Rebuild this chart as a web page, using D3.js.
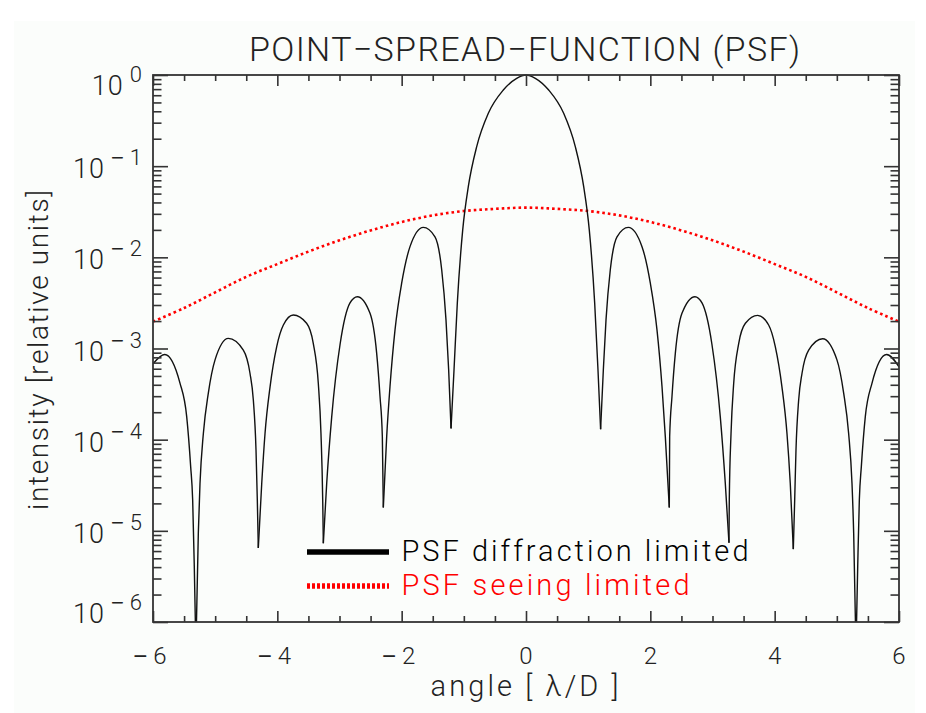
<!DOCTYPE html>
<html>
<head>
<meta charset="utf-8">
<script src="https://cdn.jsdelivr.net/npm/d3@7/dist/d3.min.js"></script>
<style>
  html, body { margin: 0; padding: 0; background: #ffffff; }
  svg { display: block; }
  text { font-family: "Roboto", "Liberation Sans", "DejaVu Sans", sans-serif; font-weight: 300; fill: #222; }
  tspan.minus { font-family: "Liberation Sans", sans-serif; font-weight: 400; }
</style>
</head>
<body>
<svg id="chart" width="926" height="713"></svg>
<script>
// ---------------- DATA ----------------
const titleText = "POINT\u2212SPREAD\u2212FUNCTION (PSF)";
const xTitle = "angle [ \u03bb/D ]";
const yTitle = "intensity [relative units]";
const legendLabels = ["PSF diffraction limited", "PSF seeing limited"];

const xMajorTicks = [-6, -4, -2, 0, 2, 4, 6];
const xMinorTicks = [-5.5, -5, -4.5, -3.5, -3, -2.5, -1.5, -1, -0.5, 0.5, 1, 1.5, 2.5, 3, 3.5, 4.5, 5, 5.5];
const yMajorTicks = [1, 1e-1, 1e-2, 1e-3, 1e-4, 1e-5, 1e-6];
const yTickExponents = ["0", "1", "2", "3", "4", "5", "6"];

// diffraction-limited PSF: angle and intensity
const diffX = [
  -6.00, -5.81, -5.565, -5.458, -5.394, -5.362, -5.336, -5.31,
  -5.271, -5.244, -5.19, -5.11, -5.002, -4.788, -4.547, -4.44, -4.386, -4.343, -4.322, -4.306,
  -4.251, -4.198, -4.117, -4.01, -3.903, -3.743, -3.529, -3.422, -3.341, -3.298, -3.27, -3.26,
  -3.206, -3.125, -2.99, -2.831, -2.713, -2.509, -2.402, -2.348, -2.311, -2.295,
  -2.241, -2.188, -2.107, -2.0, -1.866, -1.652, -1.464, -1.356, -1.287, -1.244, -1.206,
  -1.158, -1.105, -1.018, -0.928, -0.793, -0.606, -0.365, -0.15, 0,
  0.15, 0.365, 0.606, 0.793, 0.928, 1.018, 1.105, 1.158,
  1.200, 1.244, 1.287, 1.356, 1.464, 1.646, 1.866, 2.0, 2.107, 2.188, 2.241,
  2.305, 2.311, 2.348, 2.402, 2.509, 2.718, 2.831, 2.99, 3.125, 3.206,
  3.265, 3.27, 3.298, 3.341, 3.422, 3.529, 3.726, 3.903, 4.01, 4.117, 4.198, 4.251,
  4.300, 4.322, 4.343, 4.386, 4.44, 4.547, 4.772, 5.002, 5.11, 5.19, 5.244, 5.271,
  5.308, 5.336, 5.362, 5.394, 5.458, 5.565, 5.80, 6.00
];
const diffI = [
  6.8e-4, 8.6e-4, 4.15e-4, 1.79e-4, 5.06e-5, 2.19e-5, 4.1e-6, 5.0e-7,
  9.4e-6, 3.3e-5, 1.17e-4, 3.24e-4, 7.5e-4, 1.29e-3, 9.6e-4, 5.35e-4, 2.72e-4, 7.7e-5, 2.18e-5, 6.5e-6,
  3.3e-5, 1.17e-4, 3.8e-4, 1.05e-3, 1.81e-3, 2.33e-3, 1.89e-3, 1.14e-3, 4.15e-4, 1.17e-4, 2.18e-5, 7.3e-6,
  3.3e-5, 1.79e-4, 1.12e-3, 3.16e-3, 3.7e-3, 2.43e-3, 8.85e-4, 2.96e-4, 1.08e-4, 1.8e-5,
  1.08e-4, 3.8e-4, 1.6e-3, 5.2e-3, 1.31e-2, 2.13e-2, 1.68e-2, 7.3e-3, 2.06e-3, 5.8e-4, 1.33e-4,
  5.8e-4, 3.13e-3, 2.0e-2, 5.96e-2, 0.164, 0.38, 0.684, 0.92, 1.0,
  0.92, 0.684, 0.38, 0.164, 5.96e-2, 2.0e-2, 3.13e-3, 5.8e-4,
  1.3e-4, 5.8e-4, 2.06e-3, 7.3e-3, 1.68e-2, 2.13e-2, 1.31e-2, 5.2e-3, 1.6e-3, 3.8e-4, 1.08e-4,
  1.8e-5, 1.08e-4, 2.96e-4, 8.85e-4, 2.43e-3, 3.7e-3, 3.16e-3, 1.12e-3, 1.79e-4, 3.3e-5,
  7.4e-6, 2.18e-5, 1.17e-4, 4.15e-4, 1.14e-3, 1.89e-3, 2.31e-3, 1.81e-3, 1.05e-3, 3.8e-4, 1.17e-4, 3.3e-5,
  6.3e-6, 2.18e-5, 7.7e-5, 2.72e-4, 5.35e-4, 9.6e-4, 1.28e-3, 7.5e-4, 3.24e-4, 1.17e-4, 3.3e-5, 9.4e-6,
  5.0e-7, 4.1e-6, 2.19e-5, 5.06e-5, 1.79e-4, 4.15e-4, 8.6e-4, 6.3e-4
];

// seeing-limited PSF: angle and intensity
const seeX = [-6, -5.5, -5, -4.5, -4, -3.5, -3, -2.5, -2, -1.5, -1, -0.5, 0, 0.5, 1, 1.5, 2, 2.5, 3, 3.5, 4, 4.5, 5, 5.5, 6];
const seeI = [1.97e-3, 2.78e-3, 4.13e-3, 6.11e-3, 8.43e-3, 1.156e-2, 1.538e-2, 1.972e-2, 2.443e-2, 2.884e-2, 3.22e-2, 3.40e-2, 3.51e-2,
              3.40e-2, 3.22e-2, 2.884e-2, 2.443e-2, 1.972e-2, 1.538e-2, 1.156e-2, 8.43e-3, 6.11e-3, 4.13e-3, 2.78e-3, 1.97e-3];

// ---------------- CHART ----------------
const svg = d3.select("#chart");
const L = 153, R = 899, T = 75, B = 622;
const x = d3.scaleLinear().domain([-6, 6]).range([L, R]);
const y = d3.scaleLog().domain([1e-6, 1]).range([B, T]);
const axisColor = "#333";

svg.append("rect").attr("x", 14).attr("y", 21).attr("width", 901).attr("height", 692).attr("fill", "#fbfdfb");

svg.append("defs").append("clipPath").attr("id", "plotclip")
  .append("rect").attr("x", L).attr("y", T - 2).attr("width", R - L).attr("height", B - T + 2);

// seeing-limited curve
const seeData = seeX.map((v, i) => [v, seeI[i]]);
svg.append("path")
  .datum(seeData)
  .attr("clip-path", "url(#plotclip)")
  .attr("fill", "none").attr("stroke", "#ff0000").attr("stroke-width", 2.6)
  .attr("stroke-dasharray", "2.6,3")
  .attr("d", d3.line().x(d => x(d[0])).y(d => y(d[1])).curve(d3.curveCatmullRom));

// diffraction-limited curve: split into lobes at the local minima so dips stay sharp
const diffData = diffX.map((v, i) => [v, diffI[i]]);
const lobes = [];
let cur = [diffData[0]];
for (let i = 1; i < diffData.length; i++) {
  cur.push(diffData[i]);
  const isMin = i < diffData.length - 1 && diffData[i][1] < diffData[i - 1][1] && diffData[i][1] < diffData[i + 1][1];
  if (isMin) { lobes.push(cur); cur = [diffData[i]]; }
}
lobes.push(cur);
const diffLine = d3.line().x(d => x(d[0])).y(d => y(d[1])).curve(d3.curveMonotoneX);
svg.append("g").attr("clip-path", "url(#plotclip)")
  .selectAll("path").data(lobes).join("path")
  .attr("fill", "none").attr("stroke", "#111").attr("stroke-width", 1.4)
  .attr("d", diffLine);

// axes (ticks inward on all four sides)
function styleAxis(g) {
  g.selectAll(".domain").remove();
  g.selectAll(".tick line").attr("stroke", axisColor).attr("stroke-width", 1.6);
  g.selectAll(".tick text").remove();
}
svg.append("g").attr("transform", `translate(0,${B})`).call(d3.axisBottom(x).tickValues(xMajorTicks).tickSize(-11)).call(styleAxis);
svg.append("g").attr("transform", `translate(0,${B})`).call(d3.axisBottom(x).tickValues(xMinorTicks).tickSize(-6)).call(styleAxis);
svg.append("g").attr("transform", `translate(0,${T})`).call(d3.axisTop(x).tickValues(xMajorTicks).tickSize(-11)).call(styleAxis);
svg.append("g").attr("transform", `translate(0,${T})`).call(d3.axisTop(x).tickValues(xMinorTicks).tickSize(-6)).call(styleAxis);

const yMinor = [];
yMajorTicks.slice(1).forEach(d => { for (let k = 2; k <= 9; k++) yMinor.push(d * k); });
svg.append("g").attr("transform", `translate(${L},0)`).call(d3.axisLeft(y).tickValues(yMajorTicks).tickSize(-15)).call(styleAxis);
svg.append("g").attr("transform", `translate(${L},0)`).call(d3.axisLeft(y).tickValues(yMinor).tickSize(-8.5)).call(styleAxis);
svg.append("g").attr("transform", `translate(${R},0)`).call(d3.axisRight(y).tickValues(yMajorTicks).tickSize(-15)).call(styleAxis);
svg.append("g").attr("transform", `translate(${R},0)`).call(d3.axisRight(y).tickValues(yMinor).tickSize(-8.5)).call(styleAxis);

svg.append("rect").attr("x", L).attr("y", T).attr("width", R - L).attr("height", B - T)
  .attr("fill", "none").attr("stroke", axisColor).attr("stroke-width", 1.8);

// x tick labels
const xl = svg.append("g").selectAll("text").data(xMajorTicks).join("text")
  .attr("x", d => x(d)).attr("y", B + 42)
  .attr("text-anchor", "middle").attr("font-size", 24);
xl.filter(d => d < 0).append("tspan").attr("class", "minus").attr("dx", -3).text("\u2212");
xl.append("tspan").attr("dx", d => d < 0 ? 6 : 0).text(d => String(Math.abs(d)));

// y tick labels with superscript exponents
const yl = svg.append("g").selectAll("text").data(yMajorTicks).join("text")
  .attr("text-anchor", "end")
  .attr("x", 142)
  .attr("y", (d, i) => y(d) + (i === 0 ? 20 : (i === yMajorTicks.length - 1 ? 1 : 12)));
yl.append("tspan").attr("font-size", 27).attr("letter-spacing", 1).text("10");
yl.each(function (d, i) {
  const t = d3.select(this);
  if (i === 0) {
    t.append("tspan").attr("font-size", 22).attr("dx", 6).attr("dy", -13).text(yTickExponents[i]);
  } else {
    t.append("tspan").attr("class", "minus").attr("font-size", 22).attr("dx", 6).attr("dy", -13).text("\u2212");
    t.append("tspan").attr("font-size", 22).attr("dx", 6).text(yTickExponents[i]);
  }
});

// titles
svg.append("text").attr("x", 524.5).attr("y", 61).attr("text-anchor", "middle")
  .attr("font-size", 34).attr("textLength", 551).attr("lengthAdjust", "spacing").text(titleText);
svg.append("text").attr("x", 524.5).attr("y", 696).attr("text-anchor", "middle")
  .attr("font-size", 29).attr("textLength", 188).attr("lengthAdjust", "spacing").text(xTitle);
svg.append("text").attr("transform", "translate(48,350) rotate(-90)").attr("text-anchor", "middle")
  .attr("font-size", 28).attr("textLength", 320).attr("lengthAdjust", "spacing").text(yTitle);

// legend
const legendY = [552, 586];
const legendLen = [347, 288];
const legendColor = ["#000000", "#ff0000"];
svg.append("line").attr("x1", 307).attr("x2", 389).attr("y1", legendY[0]).attr("y2", legendY[0])
  .attr("stroke", legendColor[0]).attr("stroke-width", 5.5);
svg.append("line").attr("x1", 307).attr("x2", 389).attr("y1", legendY[1]).attr("y2", legendY[1])
  .attr("stroke", legendColor[1]).attr("stroke-width", 5.5).attr("stroke-dasharray", "3,2");
legendLabels.forEach((t, i) => {
  svg.append("text").attr("x", 401.5).attr("y", legendY[i] + 8.5)
    .attr("font-size", 29).attr("textLength", legendLen[i]).attr("lengthAdjust", "spacing")
    .style("fill", legendColor[i]).text(t);
});
</script>
</body>
</html>
